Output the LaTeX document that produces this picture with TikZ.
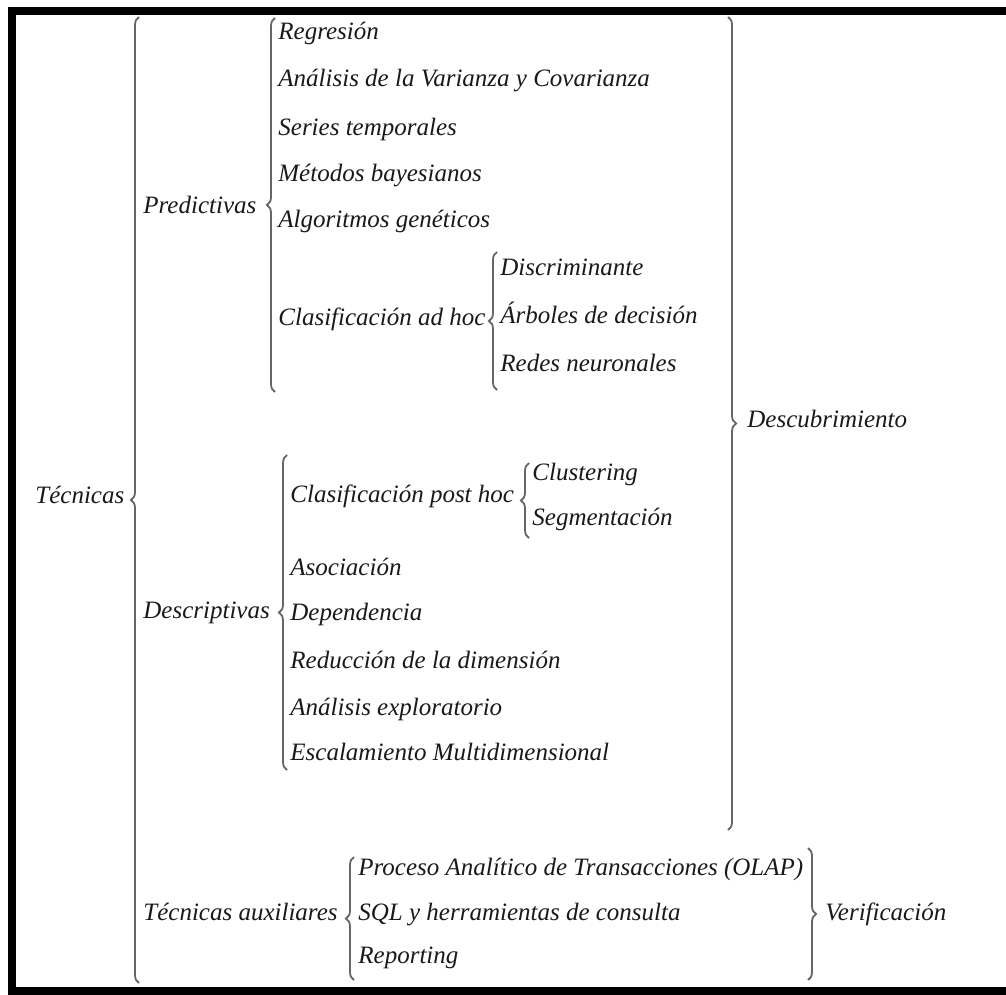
\documentclass[tikz,border=0pt]{standalone}
\usepackage{fontspec}
\setmainfont{Liberation Serif}
\usetikzlibrary{decorations.pathreplacing}

\begin{document}
\begin{tikzpicture}[x=0.5pt, y=-0.5pt]
	
	% Define the styles for the labels and the braces
	\tikzset{
		label text/.style={anchor=west, inner sep=0pt, text height=0.75em, text depth=0.25em,
			font=\itshape\fontsize{12.5}{15}\selectfont, text=black!90},
		open brace/.style={decorate, decoration={brace, amplitude=4pt},
			draw=gray!80!black, line width=0.9pt},
		close brace/.style={open brace}
	}
	\useasboundingbox (0, 0) rectangle (1006, 995);
	
	% Draw the black frame (open on the right)
	\draw[line width=4pt, black] (1006, 11) -- (12, 11) -- (12, 991) -- (1006, 991);
	
	% First level
	\node[label text] (tecnicas) at (35, 498) {Técnicas};
	\coordinate (tecTop) at (139, 17);
	\coordinate (tecBot) at (139, 983);
	\draw[open brace] (tecBot) -- (tecTop);
	
	% Predictivas
	\node[label text] (predictivas) at (143, 208) {Predictivas};
	\coordinate (preTop) at (275, 18);
	\coordinate (preBot) at (275, 392);
	\draw[open brace] (preBot) -- (preTop);
	
	\node[label text] (regresion) at (278, 35) {Regresión};
	\node[label text] (varianza) at (278, 82) {Análisis de la Varianza y Covarianza};
	\node[label text] (series) at (278, 130) {Series temporales};
	\node[label text] (bayes) at (278, 176) {Métodos bayesianos};
	\node[label text] (geneticos) at (278, 222) {Algoritmos genéticos};
	\node[label text] (adhoc) at (278, 320) {Clasificación ad hoc};
	
	% Clasificacion ad hoc
	\coordinate (adhTop) at (497, 252);
	\coordinate (adhBot) at (497, 390);
	\draw[open brace] (adhBot) -- (adhTop);
	\node[label text] (discriminante) at (500, 270) {Discriminante};
	\node[label text] (arboles) at (500, 318) {Árboles de decisión};
	\node[label text] (redes) at (500, 366) {Redes neuronales};
	
	% Descriptivas
	\node[label text] (descriptivas) at (143, 613) {Descriptivas};
	\coordinate (desTop) at (287, 455);
	\coordinate (desBot) at (287, 770);
	\draw[open brace] (desBot) -- (desTop);
	
	\node[label text] (posthoc) at (290, 497) {Clasificación post hoc};
	\coordinate (phTop) at (529, 463);
	\coordinate (phBot) at (529, 538);
	\draw[open brace] (phBot) -- (phTop);
	\node[label text] (clustering) at (532, 475) {Clustering};
	\node[label text] (segmentacion) at (532, 520) {Segmentación};
	
	\node[label text] (asociacion) at (290, 570) {Asociación};
	\node[label text] (dependencia) at (290, 615) {Dependencia};
	\node[label text] (reduccion) at (290, 663) {Reducción de la dimensión};
	\node[label text] (exploratorio) at (290, 710) {Análisis exploratorio};
	\node[label text] (escalamiento) at (290, 755) {Escalamiento Multidimensional};
	
	% Tecnicas auxiliares
	\node[label text] (auxiliares) at (143, 915) {Técnicas auxiliares};
	\coordinate (auxTop) at (354, 857);
	\coordinate (auxBot) at (354, 980);
	\draw[open brace] (auxBot) -- (auxTop);
	\node[label text] (olap) at (358, 870) {Proceso Analítico de Transacciones (OLAP)};
	\node[label text] (sql) at (358, 915) {SQL y herramientas de consulta};
	\node[label text] (reporting) at (358, 958) {Reporting};
	
	% Right braces
	\coordinate (dscTop) at (728, 17);
	\coordinate (dscBot) at (728, 830);
	\draw[close brace] (dscTop) -- (dscBot);
	\node[label text] (descubrimiento) at (747, 422) {Descubrimiento};
	
	\coordinate (verTop) at (808, 848);
	\coordinate (verBot) at (808, 980);
	\draw[close brace] (verTop) -- (verBot);
	\node[label text] (verificacion) at (825, 915) {Verificación};
	
\end{tikzpicture}
\end{document}
